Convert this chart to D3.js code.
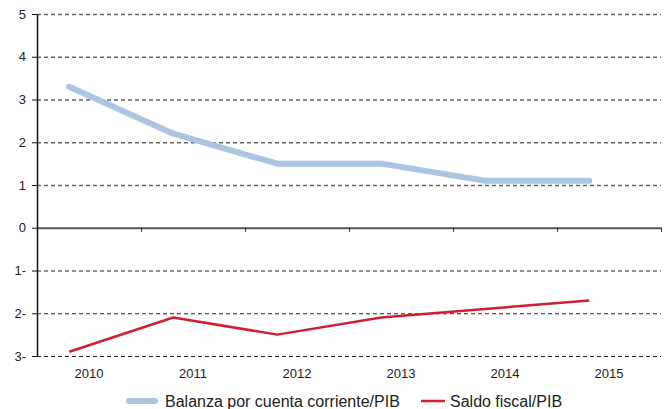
<!DOCTYPE html>
<html>
<head>
<meta charset="utf-8">
<script src="https://cdn.jsdelivr.net/npm/d3@7"></script>
<style>
  body { margin: 0; background: #fff; }
  text { font-family: "Liberation Sans", Arial, sans-serif; }
</style>
</head>
<body>
<div id="wrapper"></div>
<script>
// data
const years = ["2010", "2011", "2012", "2013", "2014", "2015"];
const balanza = [3.3, 2.2, 1.5, 1.5, 1.1, 1.1];
const saldo = [-2.9, -2.1, -2.5, -2.1, -1.9, -1.7];
const yTicks = [5, 4, 3, 2, 1, 0, -1, -2, -3];
const seriesNames = ["Balanza por cuenta corriente/PIB", "Saldo fiscal/PIB"];

function drawChart() {
    let dimensions = {
        width: 664,
        height: 409,
        margin: { top: 14, right: 3, bottom: 53, left: 37 },
    }
    dimensions.boundedWidth = dimensions.width - dimensions.margin.left - dimensions.margin.right;
    dimensions.boundedHeight = dimensions.height - dimensions.margin.top - dimensions.margin.bottom;

    const wrapper = d3.select("#wrapper")
        .append("svg")
        .attr("width", dimensions.width)
        .attr("height", dimensions.height)

    const bounds = wrapper.append("g")
        .attr("transform", `translate(${dimensions.margin.left},${dimensions.margin.top})`);

    const yScale = d3.scaleLinear()
        .domain([-3, 5])
        .range([dimensions.boundedHeight, 0]);

    const xBand = d3.scaleBand()
        .domain(years)
        .range([0, dimensions.boundedWidth]);

    // points sit left of the band centre, like the original
    const xPoint = d => xBand(d) + xBand.bandwidth() * 0.31;

    // dashed gridlines
    const grid = bounds.append("g")
        .call(d3.axisLeft(yScale).tickValues(yTicks.filter(d => d != 0))
            .tickSize(-dimensions.boundedWidth).tickFormat(""));
    grid.select(".domain").remove();
    grid.selectAll(".tick line")
        .attr("stroke", d => d > 0 ? "#666" : "#222")
        .attr("stroke-width", d => d > 0 ? 1.5 : 1)
        .attr("stroke-dasharray", "4,3");

    // zero line with ticks at band edges
    const zeroScale = d3.scaleLinear().domain([0, 6]).range([0, dimensions.boundedWidth]);
    const zeroAxis = bounds.append("g")
        .attr("transform", `translate(0,${yScale(0)})`)
        .call(d3.axisBottom(zeroScale).ticks(6).tickSize(4).tickSizeOuter(0).tickFormat(""));
    zeroAxis.select(".domain").attr("stroke", "#555").attr("stroke-width", 2);
    zeroAxis.selectAll(".tick line").attr("stroke", "#333");

    // y axis
    const yAxis = bounds.append("g")
        .call(d3.axisLeft(yScale).tickValues(yTicks).tickSize(5).tickSizeOuter(0).tickPadding(6)
            .tickFormat(d => d < 0 ? `${-d}-` : `${d}`));
    yAxis.select(".domain").attr("stroke", "#111").attr("stroke-width", 1.5);
    yAxis.selectAll(".tick line").attr("stroke", "#111");
    yAxis.selectAll(".tick text").attr("font-size", 13).attr("fill", "#222");

    // x labels
    const xAxis = bounds.append("g")
        .attr("transform", `translate(0,${dimensions.boundedHeight})`)
        .call(d3.axisBottom(xBand).tickSize(0).tickPadding(13));
    xAxis.select(".domain").remove();
    xAxis.selectAll(".tick text").attr("font-size", 13).attr("fill", "#222");

    const lineGenerator = d3.line()
        .x((d, i) => xPoint(years[i]))
        .y(d => yScale(d));

    bounds.append("path")
        .attr("d", lineGenerator(balanza))
        .attr("fill", "none")
        .attr("stroke", "#abc5e2")
        .attr("stroke-width", 6)
        .attr("stroke-linecap", "round")
        .attr("stroke-linejoin", "round");

    bounds.append("path")
        .attr("d", lineGenerator(saldo))
        .attr("fill", "none")
        .attr("stroke", "#cf1f33")
        .attr("stroke-width", 2.5)
        .attr("stroke-linejoin", "round");

    // legend
    const legend = wrapper.append("g").attr("transform", "translate(0,401)");
    const items = [
        { name: seriesNames[0], color: "#abc5e2", w: 6, x1: 129, x2: 155, tx: 165, cap: "round" },
        { name: seriesNames[1], color: "#cf1f33", w: 2.5, x1: 421, x2: 445, tx: 450, cap: "butt" },
    ];
    items.forEach(it => {
        legend.append("line")
            .attr("x1", it.x1).attr("x2", it.x2)
            .attr("y1", 0).attr("y2", 0)
            .attr("stroke", it.color)
            .attr("stroke-width", it.w)
            .attr("stroke-linecap", it.cap);
        legend.append("text")
            .attr("x", it.tx).attr("y", 0).attr("dy", "0.35em")
            .attr("font-size", 16).attr("fill", "#222")
            .text(it.name);
    });
}

drawChart()
</script>
</body>
</html>
